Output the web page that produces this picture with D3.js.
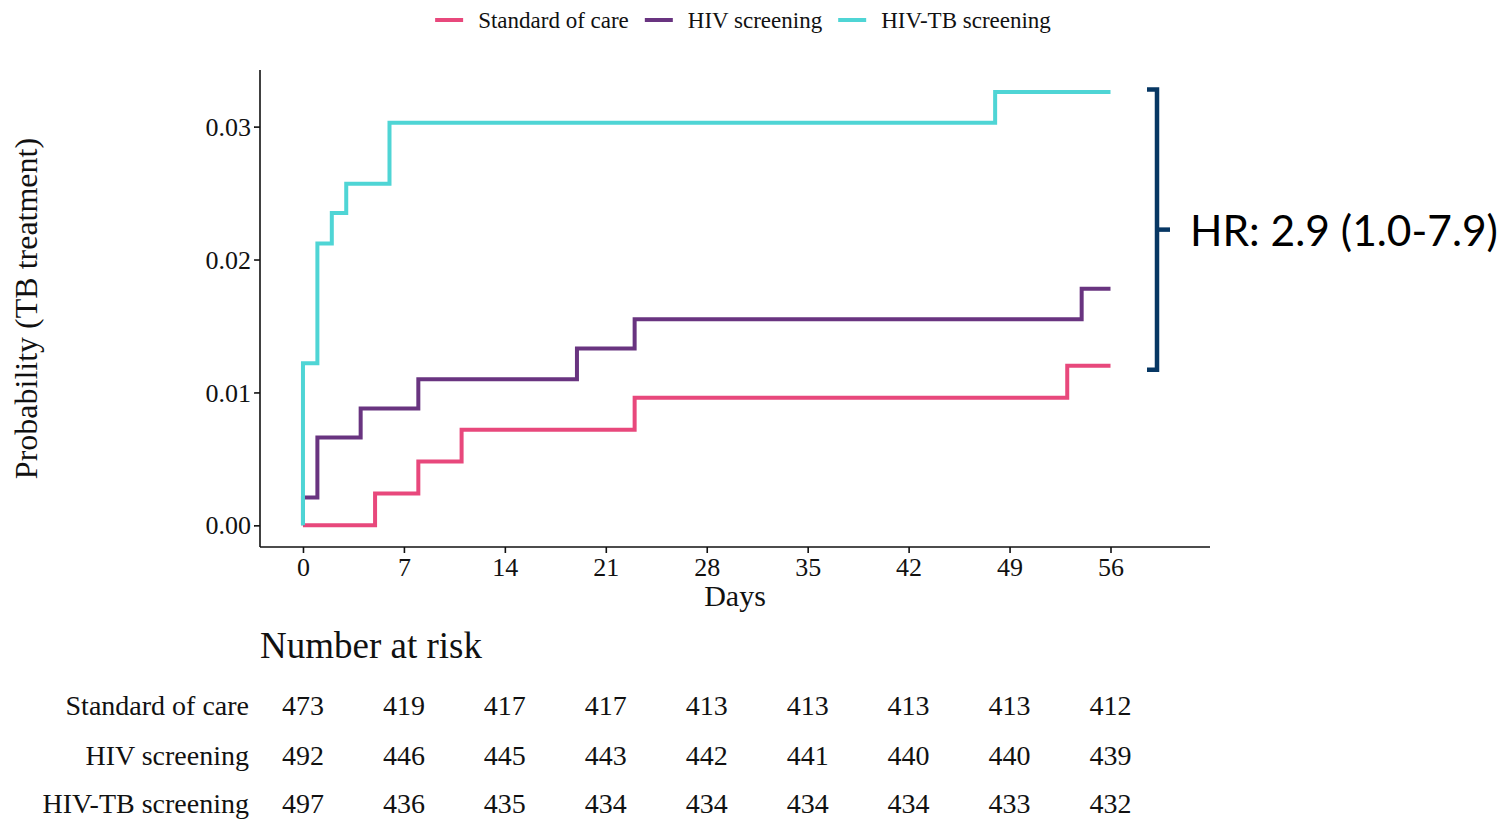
<!DOCTYPE html>
<html>
<head>
<meta charset="utf-8">
<script src="https://cdn.jsdelivr.net/npm/d3@7"></script>
<style>
  html, body { margin: 0; padding: 0; background: #ffffff; }
  svg { display: block; }
  text { font-family: "Liberation Serif", "Times New Roman", serif; fill: #111; }
</style>
</head>
<body>
<svg id="chart" width="1511" height="819"></svg>
<script>
// ---------- data ----------
const groups = ["Standard of care", "HIV screening", "HIV-TB screening"];
const groupColors = ["#e8487c", "#693480", "#4fd5d5"];

const socDays  = [0, 5, 8, 11, 23, 53, 56];
const socProb  = [0, 0.0024, 0.0048, 0.0072, 0.0096, 0.0120, 0.0120];

const hivDays  = [0, 0, 1, 4, 8, 19, 23, 54, 56];
const hivProb  = [0, 0.0021, 0.0066, 0.0088, 0.0110, 0.0133, 0.0155, 0.0178, 0.0178];

const hivtbDays = [0, 0, 1, 2, 3, 6, 48, 56];
const hivtbProb = [0, 0.0122, 0.0212, 0.0235, 0.0257, 0.0303, 0.0326, 0.0326];

const xTicks = [0, 7, 14, 21, 28, 35, 42, 49, 56];
const yTicks = [0.00, 0.01, 0.02, 0.03];

const riskSoc   = [473, 419, 417, 417, 413, 413, 413, 413, 412];
const riskHiv   = [492, 446, 445, 443, 442, 441, 440, 440, 439];
const riskHivtb = [497, 436, 435, 434, 434, 434, 434, 433, 432];

const hrLabel = "HR: 2.9 (1.0-7.9)";
const hrTop = 0.0328, hrBottom = 0.0117;   // bracket spans HIV-TB vs standard of care

// ---------- layout ----------
const svg = d3.select("#chart");
const plot = { left: 260, right: 1210, top: 70, bottom: 547 };

const x = d3.scaleLinear().domain([-2.98, 62.9]).range([plot.left, plot.right]);
const y = d3.scaleLinear().domain([-0.00163, 0.03426]).range([plot.bottom, plot.top]);

const series = [
  { name: groups[0], color: groupColors[0], t: socDays, p: socProb },
  { name: groups[1], color: groupColors[1], t: hivDays, p: hivProb },
  { name: groups[2], color: groupColors[2], t: hivtbDays, p: hivtbProb }
];

// axes
const xAxis = d3.axisBottom(x).tickValues(xTicks).tickSize(6).tickPadding(4).tickFormat(d3.format("d"));
const yAxis = d3.axisLeft(y).tickValues(yTicks).tickSize(6).tickPadding(4).tickFormat(d3.format(".2f"));

const gx = svg.append("g").attr("transform", `translate(0,${plot.bottom})`).call(xAxis);
const gy = svg.append("g").attr("transform", `translate(${plot.left},0)`).call(yAxis);

[gx, gy].forEach(g => {
  g.select(".domain").attr("stroke", "#111").attr("stroke-width", 1.6);
  g.selectAll(".tick line").attr("stroke", "#111").attr("stroke-width", 1.6);
  g.selectAll(".tick text").attr("font-family", "Liberation Serif").attr("font-size", 26).attr("fill", "#111");
});
gx.select(".domain").attr("d", `M${plot.left},0H${plot.right}`);
gy.select(".domain").attr("d", `M0,${plot.top}V${plot.bottom}`);
gx.selectAll(".tick text").attr("dy", null).attr("y", 29);
gy.selectAll(".tick text").attr("dy", "0.33em").attr("x", -9);

// axis titles
svg.append("text").attr("x", 735).attr("y", 606).attr("text-anchor", "middle")
  .attr("font-size", 30).text("Days");
svg.append("text").attr("transform", `translate(37,${(plot.top + plot.bottom) / 2}) rotate(-90)`)
  .attr("text-anchor", "middle").attr("font-size", 32).text("Probability (TB treatment)");

// step lines
const line = d3.line()
  .x(d => x(d[0]))
  .y(d => y(d[1]))
  .curve(d3.curveStepAfter);

svg.append("g").selectAll("path").data(series).join("path")
  .attr("d", s => line(s.t.map((t, i) => [t, s.p[i]])))
  .attr("fill", "none")
  .attr("stroke", s => s.color)
  .attr("stroke-width", 4)
  .attr("stroke-linejoin", "miter");

// legend
const legend = svg.append("g");
let lx = 0;
series.forEach((s, i) => {
  const g = legend.append("g").attr("transform", `translate(${lx},0)`);
  g.append("line").attr("x1", 0).attr("x2", 28).attr("y1", 20).attr("y2", 20)
    .attr("stroke", s.color).attr("stroke-width", 4);
  const t = g.append("text").attr("x", 43).attr("y", 28).attr("font-size", 23).text(s.name);
  lx += 43 + t.node().getComputedTextLength() + 16;
});
const legendW = lx - 16;
legend.attr("transform", `translate(${743 - legendW / 2},0)`);

// HR bracket
const bx = 1157;
const bTop = y(hrTop), bBot = y(hrBottom), bMid = (bTop + bBot) / 2;
svg.append("path")
  .attr("d", `M${bx - 10},${bTop}H${bx}V${bBot}H${bx - 10}`)
  .attr("fill", "none").attr("stroke", "#073763").attr("stroke-width", 4.5)
  .attr("stroke-linejoin", "miter");
svg.append("line").attr("x1", bx).attr("x2", bx + 13).attr("y1", bMid).attr("y2", bMid)
  .attr("stroke", "#073763").attr("stroke-width", 4.5);
svg.append("text").attr("x", 1190).attr("y", bMid + 16)
  .style("font-family", "Lato, 'Open Sans', sans-serif").attr("font-size", 42.5)
  .style("fill", "#000").text(hrLabel);

// risk table
svg.append("text").attr("x", 260).attr("y", 658).attr("font-size", 37).text("Number at risk");
const riskRows = [riskSoc, riskHiv, riskHivtb];
const rowY = [715, 765, 813];
riskRows.forEach((row, r) => {
  svg.append("text").attr("x", 249).attr("y", rowY[r]).attr("text-anchor", "end")
    .attr("font-size", 28).text(groups[r]);
  svg.append("g").selectAll("text").data(row).join("text")
    .attr("x", (d, i) => x(xTicks[i]))
    .attr("y", rowY[r])
    .attr("text-anchor", "middle")
    .attr("font-size", 28)
    .text(d => d);
});
</script>
</body>
</html>
